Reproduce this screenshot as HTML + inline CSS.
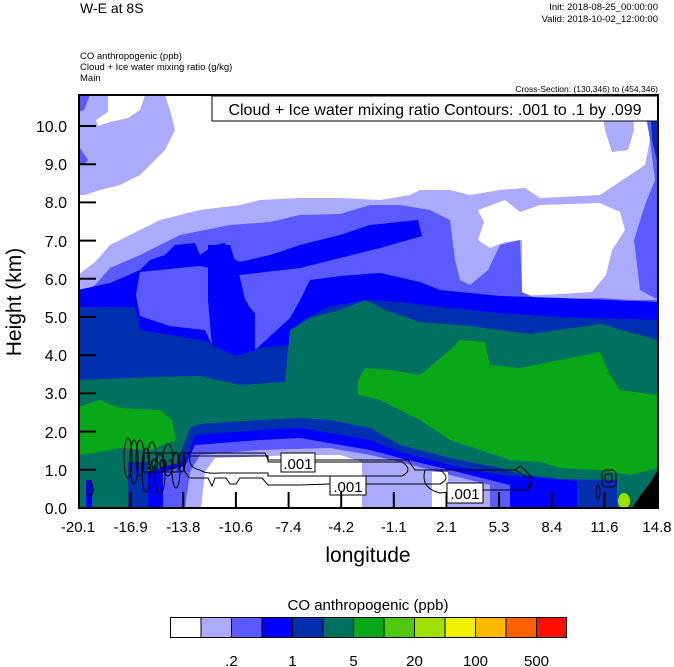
<!DOCTYPE html>
<html><head><meta charset="utf-8"><style>
html,body{margin:0;padding:0;background:#fff;}
svg{display:block;font-family:"Liberation Sans",sans-serif;}
</style></head><body>
<svg width="674" height="667" viewBox="0 0 674 667" xmlns="http://www.w3.org/2000/svg">
<text x="80" y="13" font-size="14">W-E at 8S</text>
<text x="658" y="10" font-size="9.5" text-anchor="end">Init: 2018-08-25_00:00:00</text>
<text x="658" y="22" font-size="9.5" text-anchor="end">Valid: 2018-10-02_12:00:00</text>
<text x="80" y="59" font-size="9.5">CO anthropogenic   (ppb)</text>
<text x="80" y="70" font-size="9.5">Cloud + Ice water mixing ratio   (g/kg)</text>
<text x="80" y="81" font-size="9.5">Main</text>
<text x="658" y="92" font-size="8.5" text-anchor="end">Cross-Section: (130,346) to (454,346)</text>
<defs><clipPath id="c"><rect x="79" y="95" width="579" height="413"/></clipPath></defs>
<g clip-path="url(#c)">
<rect x="79" y="95" width="579" height="413" fill="#fff"/>
<polygon fill="#aaaaff" points="78,275 95,262 110,245 130,235 160,220 200,210 240,205 260,200 300,198 340,198 380,200 410,195 420,190 450,190 470,195 500,190 525,188 540,198 600,195 630,175 645,165 650,140 658,130 658,508 78,508"/>
<polygon fill="#aaaaff" points="78,95 165,95 170,110 175,130 165,150 150,165 140,175 120,185 100,190 85,195 78,195"/>
<polygon fill="#fff" points="108,95 145,95 140,110 128,118 110,122 98,126 96,120 108,112"/>
<polygon fill="#5a5aff" points="78,95 90,95 84,110 78,112"/>
<polygon fill="#5a5aff" points="78,145 88,160 84,165 78,165"/>
<polygon fill="#aaaaff" points="600,95 632,95 634,130 628,150 612,152 605,130"/>
<polygon fill="#fff" points="478,210 505,200 520,212 540,205 600,203 620,212 625,230 612,250 606,275 592,292 560,294 522,296 522,240 505,242 490,248 478,240 484,222"/>
<polygon fill="#5a5aff" points="78,295 95,285 110,268 140,255 160,245 180,235 230,225 270,222 300,215 340,214 370,205 400,205 430,210 450,220 455,260 460,280 470,285 488,270 500,245 520,240 522,292 540,300 600,298 630,300 658,300 658,508 78,508"/>
<polygon fill="#5a5aff" points="640,95 658,95 658,300 640,290 634,240 645,205 655,180 650,140 645,110"/>
<polygon fill="#0030b0" points="650,95 658,95 658,165 652,140"/>
<!-- blue upper band -->
<polygon fill="#0000ff" points="78,290 110,283 140,270 150,260 165,255 175,245 195,243 200,255 215,245 225,243 232,258 240,262 270,255 300,245 340,235 370,225 418,220 422,236 380,248 340,258 300,268 240,275 200,266 140,272 136,295 78,300"/>
<!-- blue main -->
<polygon fill="#0000ff" points="78,295 136,295 140,316 170,326 205,330 212,345 235,356 255,350 290,318 300,300 310,280 340,276 380,273 420,282 440,290 500,296 560,298 658,302 658,508 78,508"/>
<polygon fill="#0000ff" points="208,245 230,245 238,270 245,300 255,312 255,350 235,356 212,345 208,300"/>
<polygon fill="#0030b0" points="78,307 135,307 140,330 200,340 240,350 290,345 300,322 330,306 370,300 400,302 440,307 500,313 560,317 658,320 658,508 78,508"/>
<polygon fill="#5a5aff" points="140,272 200,266 208,282 212,320 205,330 170,326 140,316 136,295"/>
<polygon fill="#0000ff" points="208,250 230,248 238,270 245,300 255,312 255,350 235,356 212,345 208,300"/>
<polygon fill="#5a5aff" points="242,278 290,270 300,276 300,300 290,318 262,322 248,305"/>
<polygon fill="#007060" points="78,380 150,377 200,376 240,385 285,382 290,330 310,318 340,310 365,300 385,310 420,322 470,326 530,334 600,324 640,335 658,340 658,508 78,508"/>
<polygon fill="#08a818" points="78,407 100,400 120,408 160,410 172,420 176,440 150,450 120,448 100,452 78,455"/>
<polygon fill="#08a818" points="358,380 365,368 390,370 420,375 450,350 460,340 485,342 490,365 520,368 560,360 600,352 610,375 620,390 658,395 658,468 630,475 600,470 560,468 540,462 510,460 480,450 450,440 420,420 400,410 380,400 358,395"/>
<polygon fill="#0030b0" points="180,455 190,428 200,424 260,420 300,418 330,420 370,428 400,445 450,458 500,468 520,474 560,479 617,480 617,508 180,508"/>
<polygon fill="#0000ff" points="185,462 195,435 260,430 300,428 370,440 400,452 450,465 500,475 577,481 577,508 148,508 148,472 165,466"/>
<polygon fill="#5a5aff" points="163,508 163,472 185,466 195,445 260,440 300,438 370,450 400,458 450,470 490,480 510,485 510,508"/>
<polygon fill="#aaaaff" points="185,508 190,472 200,455 260,450 330,448 370,455 400,462 450,475 490,485 490,508"/>
<polygon fill="#fff" points="201,508 205,472 215,458 300,455 340,455 362,462 362,508"/>
<polygon fill="#fff" points="432,472 448,472 448,508 432,508"/>
<polygon fill="#0030b0" points="128,462 148,462 148,508 128,508"/>
<rect x="86" y="480" width="6" height="28" fill="#0000ff"/>
<ellipse cx="624" cy="501" rx="6" ry="8" fill="#a0e000"/>
<polygon fill="#000" points="632,508 640,496 650,483 658,470 658,508"/>
<g fill="none" stroke="#000" stroke-width="1">
<path d="M190,456 H268 V462 H402 Q414,470 402,476 H268 V473 H220 Q205,474 200,470 V470 Q188,468 190,456 Z"/>
<path d="M184,453 H265 L268,460 H408 L415,470 H440 Q452,478 440,484 H330 L300,485 H268 L262,478 H240 L236,484 H230 L226,478 H215 L212,486 L208,478 H190 Q180,470 184,453 Z"/>
<path d="M425,470 H500 L515,470 L522,474 L530,480 L528,490 H470 L440,493 Q420,488 425,470 Z"/>
<path d="M515,470 L520,466 L525,470 L532,478 L530,488"/>
<rect x="602" y="470" width="14" height="17" rx="4"/>
<rect x="605" y="474" width="7" height="8" rx="2"/>
<ellipse cx="598" cy="492" rx="2" ry="7"/>
<ellipse cx="90" cy="489" rx="3" ry="7"/>
<ellipse cx="128" cy="458" rx="4" ry="20"/>
<ellipse cx="134" cy="462" rx="4" ry="22"/>
<ellipse cx="140" cy="458" rx="4" ry="18"/>
<ellipse cx="146" cy="470" rx="4" ry="22"/>
<ellipse cx="152" cy="456" rx="4" ry="14"/>
<ellipse cx="160" cy="474" rx="5" ry="20"/>
<ellipse cx="168" cy="460" rx="5" ry="16"/>
<ellipse cx="176" cy="470" rx="4" ry="18"/>
<ellipse cx="182" cy="462" rx="3" ry="10"/>
</g>
<g font-size="15" text-anchor="middle">
<rect x="143" y="453" width="35" height="19" fill="none" stroke="#000"/>
<text x="161" y="469">.001</text>
<rect x="281" y="453" width="34" height="19" fill="#fff" stroke="#000"/>
<text x="298" y="469">.001</text>
<rect x="330" y="476" width="36" height="19" fill="#fff" stroke="#000"/>
<text x="348" y="492">.001</text>
<rect x="447" y="483" width="36" height="20" fill="#fff" stroke="#000"/>
<text x="465" y="499">.001</text>
</g>
</g>
<rect x="212" y="96" width="446" height="25" fill="#fff" stroke="#000" stroke-width="1"/>
<text x="435" y="115" font-size="16" text-anchor="middle">Cloud + Ice water mixing ratio Contours: .001 to .1 by .099</text>
<rect x="79" y="95" width="579" height="413" fill="none" stroke="#000" stroke-width="2"/>
<g stroke="#000" stroke-width="2">
<line x1="79" y1="508" x2="96" y2="508"/><line x1="79" y1="469.8" x2="96" y2="469.8"/><line x1="79" y1="431.6" x2="96" y2="431.6"/><line x1="79" y1="393.4" x2="96" y2="393.4"/><line x1="79" y1="355.2" x2="96" y2="355.2"/><line x1="79" y1="317" x2="96" y2="317"/><line x1="79" y1="278.8" x2="96" y2="278.8"/><line x1="79" y1="240.6" x2="96" y2="240.6"/><line x1="79" y1="202.4" x2="96" y2="202.4"/><line x1="79" y1="164.2" x2="96" y2="164.2"/><line x1="79" y1="126" x2="96" y2="126"/>
<line x1="130.6" y1="508" x2="130.6" y2="492"/><line x1="183.3" y1="508" x2="183.3" y2="492"/><line x1="235.9" y1="508" x2="235.9" y2="492"/><line x1="288.6" y1="508" x2="288.6" y2="492"/><line x1="341.2" y1="508" x2="341.2" y2="492"/><line x1="393.8" y1="508" x2="393.8" y2="492"/><line x1="446.5" y1="508" x2="446.5" y2="492"/><line x1="499.1" y1="508" x2="499.1" y2="492"/><line x1="551.8" y1="508" x2="551.8" y2="492"/><line x1="604.4" y1="508" x2="604.4" y2="492"/>
</g>
<g font-size="16" text-anchor="end">
<text x="67" y="514">0.0</text><text x="67" y="476">1.0</text><text x="67" y="438">2.0</text><text x="67" y="399">3.0</text><text x="67" y="361">4.0</text><text x="67" y="323">5.0</text><text x="67" y="285">6.0</text><text x="67" y="247">7.0</text><text x="67" y="208">8.0</text><text x="67" y="170">9.0</text><text x="67" y="132">10.0</text>
</g>
<g font-size="15" text-anchor="middle">
<text x="78" y="532">-20.1</text><text x="130.6" y="532">-16.9</text><text x="183.3" y="532">-13.8</text><text x="235.9" y="532">-10.6</text><text x="288.6" y="532">-7.4</text><text x="341.2" y="532">-4.2</text><text x="393.8" y="532">-1.1</text><text x="446.5" y="532">2.1</text><text x="499.1" y="532">5.3</text><text x="551.8" y="532">8.4</text><text x="604.4" y="532">11.6</text><text x="657" y="532">14.8</text>
</g>
<text x="368" y="562" font-size="21" text-anchor="middle">longitude</text>
<text transform="translate(21,302) rotate(-90)" font-size="21" text-anchor="middle">Height (km)</text>
<text x="368" y="610" font-size="15" text-anchor="middle">CO anthropogenic  (ppb)</text>
<g stroke="#000" stroke-width="1">
<rect x="170.5" y="617.5" width="30.5" height="20" fill="#fff"/>
<rect x="201" y="617.5" width="30.5" height="20" fill="#aaaaff"/>
<rect x="231.5" y="617.5" width="30.5" height="20" fill="#5a5aff"/>
<rect x="262" y="617.5" width="30.5" height="20" fill="#0000ff"/>
<rect x="292.5" y="617.5" width="30.5" height="20" fill="#0030b0"/>
<rect x="323" y="617.5" width="30.5" height="20" fill="#007060"/>
<rect x="353.5" y="617.5" width="30.5" height="20" fill="#08a818"/>
<rect x="384" y="617.5" width="30.5" height="20" fill="#50c810"/>
<rect x="414.5" y="617.5" width="30.5" height="20" fill="#a0e000"/>
<rect x="445" y="617.5" width="30.5" height="20" fill="#f0f000"/>
<rect x="475.5" y="617.5" width="30.5" height="20" fill="#ffb800"/>
<rect x="506" y="617.5" width="30.5" height="20" fill="#ff6000"/>
<rect x="536.5" y="617.5" width="30" height="20" fill="#ff1000"/>
</g>
<g font-size="15" text-anchor="middle">
<text x="231.5" y="666">.2</text><text x="292.5" y="666">1</text><text x="353.5" y="666">5</text><text x="414.5" y="666">20</text><text x="475.5" y="666">100</text><text x="536.5" y="666">500</text>
</g>
</svg>
</body></html>
